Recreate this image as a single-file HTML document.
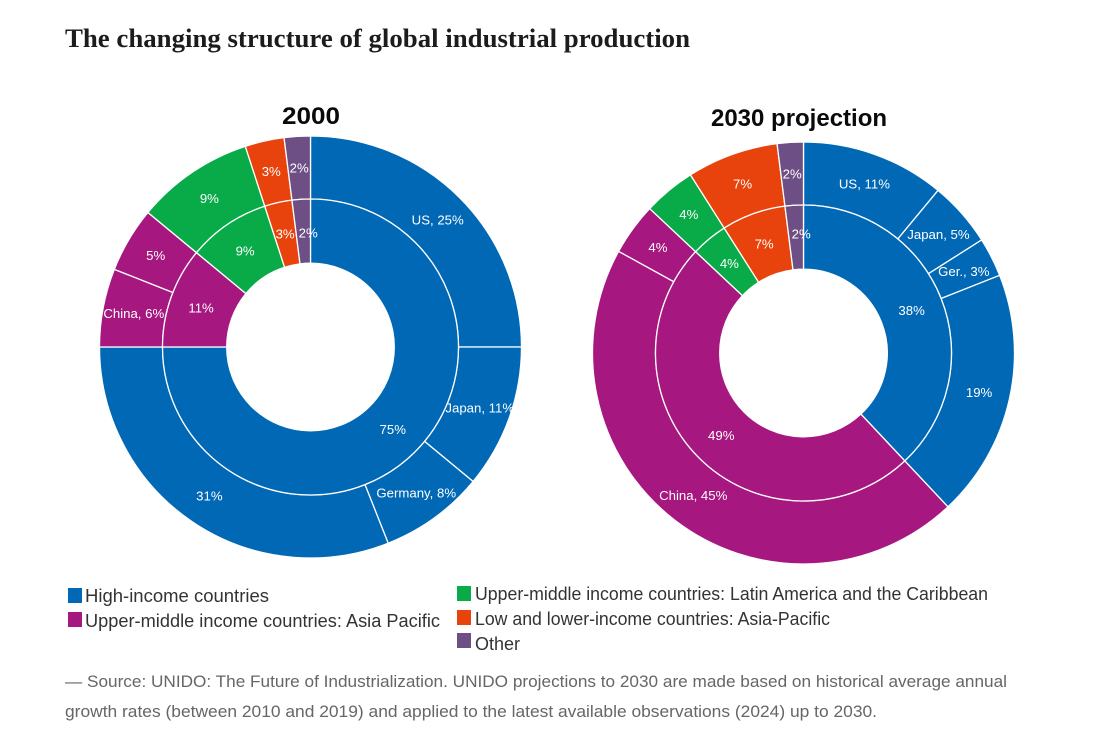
<!DOCTYPE html>
<html lang="en">
<head>
<meta charset="utf-8">
<title>The changing structure of global industrial production</title>
<style>
  html, body { margin: 0; padding: 0; background: #fff; }
  body { width: 1115px; height: 751px; overflow: hidden; }
  svg { display: block; }
  text { font-family: "Liberation Sans", sans-serif; }
  .page-title { font-family: "Liberation Serif", serif; font-weight: 700; font-size: 26px; fill: #1c1c1c; }
  .chart-title { font-weight: 700; font-size: 24px; fill: #0a0a0a; }
  .legend-text { font-size: 18px; fill: #333; }
  .source-text { font-size: 17px; fill: #666; }
  .slice-label { font-size: 13.2px; fill: #fff; text-anchor: middle; }
</style>
</head>
<body>
<svg id="root" width="1115" height="751" viewBox="0 0 1115 751" xmlns="http://www.w3.org/2000/svg">
  <text class="page-title" x="65" y="47" textLength="625" lengthAdjust="spacingAndGlyphs">The changing structure of global industrial production</text>

  <text class="chart-title" x="282" y="124" textLength="58" lengthAdjust="spacingAndGlyphs">2000</text>
  <text class="chart-title" x="711" y="126" textLength="176" lengthAdjust="spacingAndGlyphs">2030 projection</text>

  <g id="charts"></g>

  <g>
    <g>
      <rect x="68" y="588" width="14" height="15" fill="#0068b5"/>
      <text class="legend-text" x="85" y="602" textLength="184" lengthAdjust="spacingAndGlyphs">High-income countries</text>
    </g>
    <g>
      <rect x="68" y="612" width="14" height="15" fill="#a6177f"/>
      <text class="legend-text" x="85" y="627" textLength="355" lengthAdjust="spacingAndGlyphs">Upper-middle income countries: Asia Pacific</text>
    </g>
    <g>
      <rect x="457" y="586" width="14" height="15" fill="#08ab47"/>
      <text class="legend-text" x="475" y="600" textLength="513" lengthAdjust="spacingAndGlyphs">Upper-middle income countries: Latin America and the Caribbean</text>
    </g>
    <g>
      <rect x="457" y="610" width="14" height="15" fill="#e8430c"/>
      <text class="legend-text" x="475" y="625" textLength="355" lengthAdjust="spacingAndGlyphs">Low and lower-income countries: Asia-Pacific</text>
    </g>
    <g>
      <rect x="457" y="633" width="14" height="15" fill="#6e4f85"/>
      <text class="legend-text" x="475" y="650" textLength="45" lengthAdjust="spacingAndGlyphs">Other</text>
    </g>
  </g>

  <text class="source-text" x="65" y="687" textLength="942" lengthAdjust="spacingAndGlyphs">— Source: UNIDO: The Future of Industrialization. UNIDO projections to 2030 are made based on historical average annual</text>
  <text class="source-text" x="65" y="717" textLength="812" lengthAdjust="spacingAndGlyphs">growth rates (between 2010 and 2019) and applied to the latest available observations (2024) up to 2030.</text>
</svg>

<script>
// Chart data: clockwise from 12 o'clock, values in percent of global production
const outerValues2000 = [25, 11, 8, 31, 6, 5, 9, 3, 2];
const outerNames2000 = ['US', 'Japan', 'Germany', '', 'China', '', '', '', ''];
const outerCategories2000 = ['high', 'high', 'high', 'high', 'asia', 'asia', 'latam', 'low', 'other'];
const innerValues2000 = [75, 11, 9, 3, 2];
const innerCategories2000 = ['high', 'asia', 'latam', 'low', 'other'];

const outerValues2030 = [11, 5, 3, 19, 45, 4, 4, 7, 2];
const outerNames2030 = ['US', 'Japan', 'Ger.', '', 'China', '', '', '', ''];
const outerCategories2030 = ['high', 'high', 'high', 'high', 'asia', 'asia', 'latam', 'low', 'other'];
const innerValues2030 = [38, 49, 4, 7, 2];
const innerCategories2030 = ['high', 'asia', 'latam', 'low', 'other'];

const categoryColors = { high: '#0068b5', asia: '#a6177f', latam: '#08ab47', low: '#e8430c', other: '#6e4f85' };

const SVG_NS = 'http://www.w3.org/2000/svg';
const chartsGroup = document.getElementById('charts');
const R_HOLE = 83.8, R_MID = 148, R_OUTER = 211;

function angleScale(cumulative, total) {
  return cumulative / total * Math.PI * 2;
}
function polar(cx, cy, r, a) {
  return [cx + Math.sin(a) * r, cy - Math.cos(a) * r];
}
function wedgePath(cx, cy, r0, r1, a0, a1) {
  const large = a1 - a0 > Math.PI ? 1 : 0;
  const p0 = polar(cx, cy, r1, a0), p1 = polar(cx, cy, r1, a1);
  const p2 = polar(cx, cy, r0, a1), p3 = polar(cx, cy, r0, a0);
  return 'M' + p0[0] + ' ' + p0[1] +
    'A' + r1 + ' ' + r1 + ' 0 ' + large + ' 1 ' + p1[0] + ' ' + p1[1] +
    'L' + p2[0] + ' ' + p2[1] +
    'A' + r0 + ' ' + r0 + ' 0 ' + large + ' 0 ' + p3[0] + ' ' + p3[1] + 'Z';
}
// shiftLast nudges the label of the narrow final slice, which the original moved off its centre line
function drawRing(parent, chartId, ringId, cx, cy, r0, r1, values, names, categories, shiftLast) {
  const total = values.reduce(function (s, v) { return s + v; }, 0);
  let cum = 0;
  const labels = [];
  values.forEach(function (v, i) {
    const a0 = angleScale(cum, total);
    const a1 = angleScale(cum + v, total);
    cum += v;
    const path = document.createElementNS(SVG_NS, 'path');
    path.setAttribute('d', wedgePath(cx, cy, r0, r1, a0, a1));
    path.setAttribute('fill', categoryColors[categories[i]]);
    path.setAttribute('stroke', '#fff');
    path.setAttribute('stroke-width', '1.3');
    
    
    parent.appendChild(path);

    const pos = polar(cx, cy, (r0 + r1) / 2 + 0.4, (a0 + a1) / 2);
    const name = names ? names[i] : '';
    const isLast = i === values.length - 1;
    const dx = isLast && shiftLast ? shiftLast[0] : 0;
    const dy = isLast && shiftLast ? shiftLast[1] : 0;
    const txt = document.createElementNS(SVG_NS, 'text');
    txt.setAttribute('class', 'slice-label');
    txt.setAttribute('x', pos[0] + dx);
    txt.setAttribute('y', pos[1] + 4.8 + dy);
    txt.textContent = (name ? name + ', ' : '') + v + '%';
    
    
    labels.push(txt);
  });
  return labels;
}
function drawDonut(chartId, cx, cy, outerV, outerN, outerC, innerV, innerC, innerShift) {
  const g = document.createElementNS(SVG_NS, 'g');
  
  
  chartsGroup.appendChild(g);
  const a = drawRing(g, chartId, 'outer', cx, cy, R_MID, R_OUTER, outerV, outerN, outerC, null);
  const b = drawRing(g, chartId, 'inner', cx, cy, R_HOLE, R_MID, innerV, null, innerC, innerShift);
  a.concat(b).forEach(function (t) { g.appendChild(t); });
}

drawDonut('2000', 310.5, 347, outerValues2000, outerNames2000, outerCategories2000, innerValues2000, innerCategories2000, [5, 2]);
drawDonut('2030', 803.5, 353, outerValues2030, outerNames2030, outerCategories2030, innerValues2030, innerCategories2030, [5, -3]);
</script>
</body>
</html>
